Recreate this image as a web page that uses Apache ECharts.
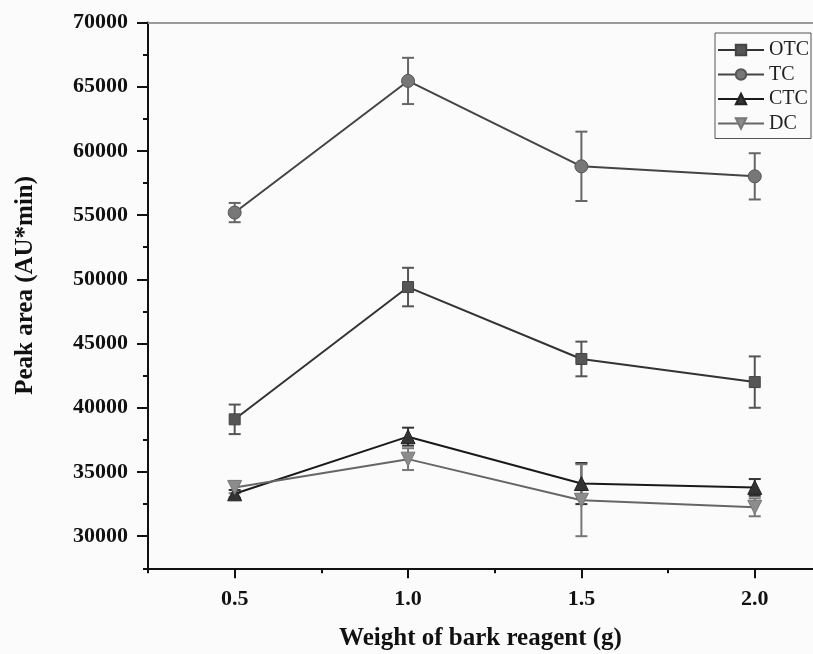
<!DOCTYPE html>
<html>
<head>
<meta charset="utf-8">
<script src="https://cdn.jsdelivr.net/npm/echarts@6/dist/echarts.min.js"></script>
<style>html,body{margin:0;padding:0;background:#fbfbfb;}#c{width:813px;height:654px;}</style>
</head>
<body>
<div id="c"></div>
<script>
// ---- data ----
var weights = [0.5, 1.0, 1.5, 2.0];
var otc = [39100, 49400, 43800, 42000];
var otcErr = [1150, 1500, 1350, 2000];
var tc = [55200, 65450, 58800, 58020];
var tcErr = [750, 1800, 2700, 1800];
var ctc = [33300, 37750, 34100, 33800];
var ctcErr = [300, 700, 1600, 650];
var dc = [33800, 36000, 32800, 32250];
var dcErr = [450, 850, 2800, 700];
var xTickLabels = [0.5, 1.0, 1.5, 2.0];
var xMinorTicks = [0.25, 0.75, 1.25, 1.75];
var yTickLabels = [30000, 35000, 40000, 45000, 50000, 55000, 60000, 65000, 70000];
var yMinorTicks = [27500, 32500, 37500, 42500, 47500, 52500, 57500, 62500, 67500];

var serif = "'Liberation Serif','Times New Roman',serif";

function pts(vals) { return weights.map(function (w, i) { return [w, vals[i]]; }); }
function errPts(vals, errs) { return weights.map(function (w, i) { return [w, vals[i] - errs[i], vals[i] + errs[i]]; }); }
function errRenderer(color) {
  return function (params, api) {
    var x = api.value(0), lo = api.value(1), hi = api.value(2);
    var pHi = api.coord([x, hi]), pLo = api.coord([x, lo]);
    var hw = 6;
    var st = { stroke: color, lineWidth: 2 };
    return { type: 'group', children: [
      { type: 'line', shape: { x1: pHi[0], y1: pHi[1], x2: pLo[0], y2: pLo[1] }, style: st },
      { type: 'line', shape: { x1: pHi[0] - hw, y1: pHi[1], x2: pHi[0] + hw, y2: pHi[1] }, style: st },
      { type: 'line', shape: { x1: pLo[0] - hw, y1: pLo[1], x2: pLo[0] + hw, y2: pLo[1] }, style: st }
    ]};
  };
}
function errSeries(name, vals, errs, color) {
  return { name: name + ' err', type: 'custom', data: errPts(vals, errs), renderItem: errRenderer(color),
    encode: { x: 0, y: [1, 2] }, z: 1, silent: true };
}
function lineSeries(name, vals, symbol, size, fill, border, lineColor) {
  return { name: name, type: 'line', data: pts(vals), symbol: symbol, symbolSize: size, showAllSymbol: true,
    itemStyle: { color: fill, borderColor: border, borderWidth: 1 },
    lineStyle: { color: lineColor, width: 2 }, z: 3, animation: false };
}

var chart = echarts.init(document.getElementById('c'));
chart.setOption({
  backgroundColor: '#fbfbfb',
  animation: false,
  grid: { left: 148, top: 22.5, right: 0, height: 545.8, show: false, containLabel: false, outerBoundsMode: 'none' },
  legend: {
    data: ['OTC', 'TC', 'CTC', 'DC'], orient: 'vertical', left: 715, top: 33,
    padding: [7, 2, 5, 2], itemGap: 4.5, itemWidth: 46, itemHeight: 13,
    borderColor: '#555', borderWidth: 1, backgroundColor: '#fbfbfb',
    textStyle: { fontFamily: serif, fontSize: 20, color: '#222' }
  },
  xAxis: [{
    type: 'value', min: 0.25, max: 2.168, position: 'bottom',
    name: 'Weight of bark reagent (g)', nameLocation: 'middle', nameGap: 58,
    nameTextStyle: { fontFamily: serif, fontSize: 25, fontWeight: 'bold', color: '#111' },
    axisLine: { show: true, lineStyle: { color: '#111', width: 2 } },
    axisTick: { show: true, length: 10, lineStyle: { color: '#111', width: 2 }, customValues: xTickLabels },
    axisLabel: { customValues: xTickLabels, margin: 20, fontFamily: serif, fontSize: 22, fontWeight: 'bold', color: '#111',
      formatter: function (v) { return Number(v).toFixed(1); } },
    splitLine: { show: false }
  }, {
    type: 'value', min: 0.25, max: 2.168, position: 'bottom', offset: 0,
    axisLine: { show: false },
    axisTick: { show: true, length: 5, lineStyle: { color: '#111', width: 2 }, customValues: xMinorTicks },
    axisLabel: { show: false, customValues: xMinorTicks },
    splitLine: { show: false }
  }, {
    type: 'value', min: 0.25, max: 2.168, position: 'top', offset: 0,
    axisLine: { show: true, lineStyle: { color: '#999', width: 2 } },
    axisTick: { show: false }, axisLabel: { show: false }, splitLine: { show: false }
  }],
  yAxis: [{
    type: 'value', min: 27500, max: 70000, position: 'left',
    name: 'Peak area (AU*min)', nameLocation: 'middle', nameGap: 110,
    nameTextStyle: { fontFamily: serif, fontSize: 25, fontWeight: 'bold', color: '#111', padding: [0, 0, 0, 20] },
    axisLine: { show: true, lineStyle: { color: '#111', width: 2 } },
    axisTick: { show: true, length: 11, lineStyle: { color: '#111', width: 2 }, customValues: yTickLabels },
    axisLabel: { customValues: yTickLabels, margin: 20, fontFamily: serif, fontSize: 22, fontWeight: 'bold', color: '#111',
      formatter: function (v) { return String(v); } },
    splitLine: { show: false }
  }, {
    type: 'value', min: 27500, max: 70000, position: 'left', offset: 0,
    axisLine: { show: false },
    axisTick: { show: true, length: 5, lineStyle: { color: '#111', width: 2 }, customValues: yMinorTicks },
    axisLabel: { show: false, customValues: yMinorTicks },
    splitLine: { show: false }
  }],
  series: [
    errSeries('TC', tc, tcErr, '#666'),
    errSeries('OTC', otc, otcErr, '#555'),
    errSeries('CTC', ctc, ctcErr, '#333'),
    errSeries('DC', dc, dcErr, '#777'),
    lineSeries('OTC', otc, 'rect', 11, '#555', '#444', '#333'),
    lineSeries('TC', tc, 'circle', 13, '#777', '#555', '#444'),
    lineSeries('CTC', ctc, 'triangle', 14, '#333', '#222', '#1a1a1a'),
    lineSeries('DC', dc, 'path://M0,0 L10,0 L5,9 Z', 14, '#8c8c8c', '#777', '#666')
  ]
});
</script>
</body>
</html>
